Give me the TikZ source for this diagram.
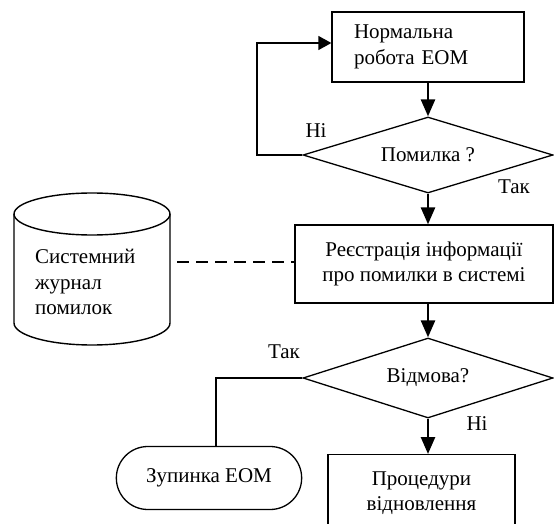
\documentclass[tikz,border=0pt]{standalone}
\usepackage{fontspec}
\setmainfont{Liberation Serif}
\usetikzlibrary{arrows.meta,shapes.geometric,shapes.misc}
\begin{document}
\begin{tikzpicture}[x=1pt,y=-1pt,
  fnt/.style={font=\fontsize{21}{25.5}\selectfont},
  txt/.style={fnt, inner sep=0pt},
  box/.style={draw, line width=1.3pt, fnt},
  dec/.style={draw, diamond, aspect=3.3, line width=1.3pt, inner sep=0pt, fnt},
  flow/.style={line width=2.6pt, -{Triangle[length=17pt,width=14pt]}},
  link/.style={line width=1.4pt},
  ]
\useasboundingbox (0,0) rectangle (554,524);
\clip (0,0) rectangle (554,524);

% nodes
\node[box, minimum width=192pt, minimum height=70pt, text width=148pt,
      align=left, inner xsep=22pt] (work) at (428,47) {Нормальна\\робота ЕОМ};
\node[dec, minimum width=250pt, minimum height=76pt] (err) at (428,155) {Помилка ?};
\node[box, minimum width=258pt, minimum height=78pt, align=center] (reg) at (424,264)
      {Реєстрація інформації\\про помилки в системі};
\node[dec, minimum width=250pt, minimum height=80pt] (fail) at (428,378) {Відмова?};
\node[draw, rounded rectangle, line width=1.3pt, fnt, minimum width=192pt,
      minimum height=63pt] (stop) at (209,478) {Зупинка ЕОМ};
\node[box, anchor=north, align=center, inner ysep=17pt, minimum width=187pt]
      (rec) at (421.5,454) {Процедури\\відновлення};

% cylinder (system log)
\draw[link] (92,214) ellipse[x radius=78pt, y radius=21pt];
\draw[link] (14,214) -- (14,323) arc[start angle=180, end angle=360, x radius=78pt, y radius=22pt] -- (170,214);
\node[txt, anchor=west, align=left] (log) at (35,282) {Системний\\журнал\\помилок};

% labels
\node[txt] (no1) at (316,131) {Ні};
\node[txt] (yes1) at (514,187) {Так};
\node[txt] (yes2) at (284,352) {Так};
\node[txt] (no2) at (477,424) {Ні};

% connectors
\draw[flow] (work.south) -- (err.north);
\draw[flow] (err.south) -- (err.south |- reg.north);
\draw[flow] (reg.south -| fail.north) -- (fail.north);
\draw[flow] (fail.south) -- (fail.south |- rec.north);

\coordinate (loop) at (257,43);
\draw[link, -{Triangle[length=13pt,width=14pt]}] (err.west) -| (loop) -- (loop -| work.west);

\coordinate (yes) at (216,378);
\draw[link] (fail.west) -- (yes) -- (yes |- stop.north);

\coordinate (logr) at (177,262);
\draw[link, dash pattern=on 12pt off 7pt] (logr) -- (logr -| reg.west);
\end{tikzpicture}
\end{document}
